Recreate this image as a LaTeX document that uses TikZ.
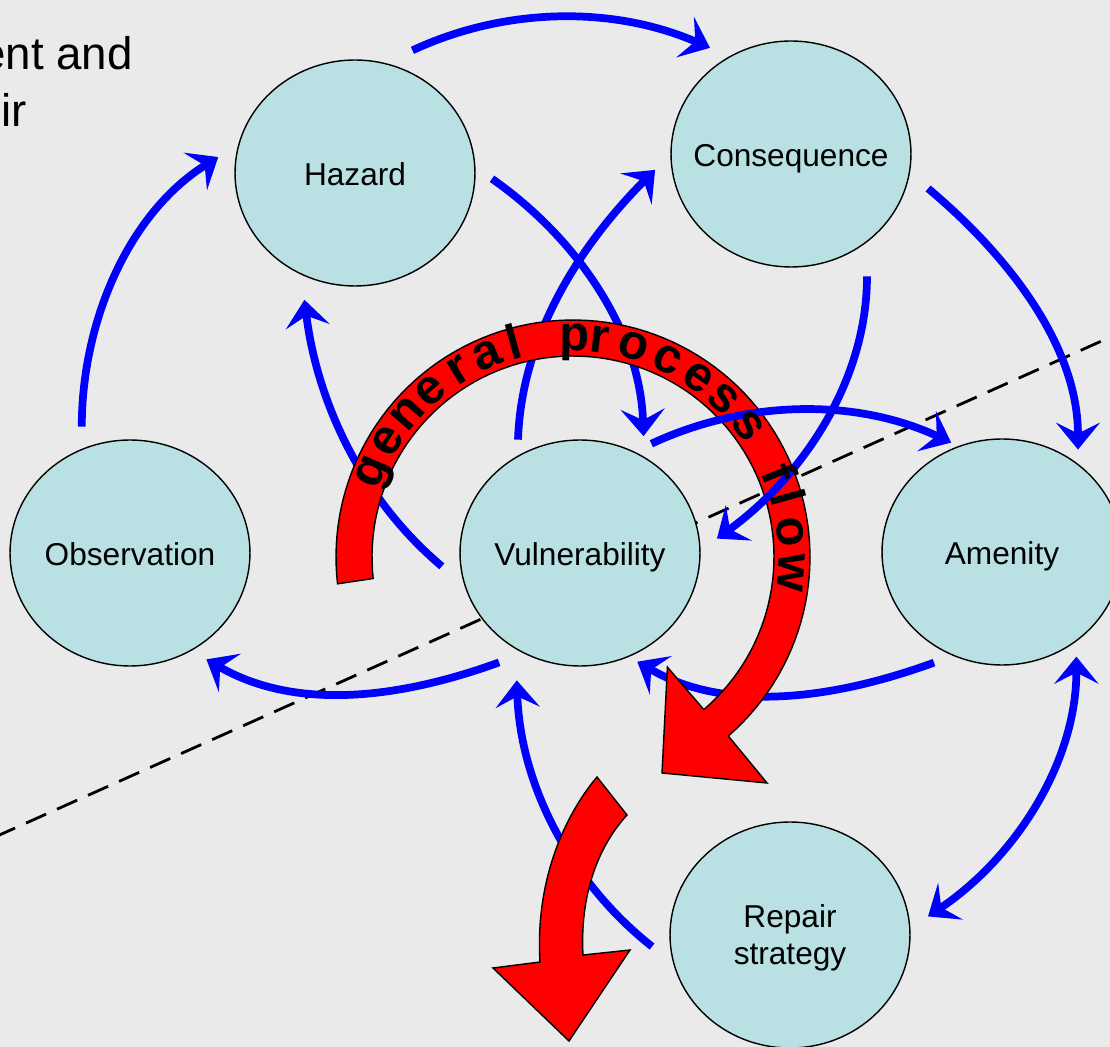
\documentclass[tikz,border=0pt]{standalone}
\usepackage{fontspec}
\setmainfont{Liberation Sans}
\usetikzlibrary{arrows.meta,shapes.geometric}

\definecolor{paper}{RGB}{234,234,234}
\definecolor{bubblefill}{RGB}{185,224,227}
\definecolor{linkblue}{RGB}{0,0,255}
\definecolor{flowred}{RGB}{255,0,0}

\pgfdeclarelayer{backdrop}
\pgfdeclarelayer{links}
\pgfsetlayers{backdrop,links,main}

\tikzset{
  headtip/.tip={Stealth[length=0.54cm,width=0.88cm,inset=0.22cm]},
  bubble/.style={ellipse, draw=black, line width=0.8pt, fill=bubblefill,
    minimum width=4.8cm, minimum height=4.52cm, inner sep=0pt, outer sep=0pt},
  bubbletext/.style={font=\fontsize{18pt}{21pt}\selectfont, inner sep=0pt,
    text height=14.5pt, text depth=0pt},
  pairtext/.style={font=\fontsize{18pt}{21pt}\selectfont, inner sep=0pt, align=center},
  link/.style={draw=linkblue, line width=4.4pt, -headtip},
  twoway/.style={draw=linkblue, line width=4.4pt, headtip-headtip},
  gap/.style 2 args={shorten <=#1cm, shorten >=#2cm},
  cutline/.style={draw=black, line width=1.6pt, dash pattern=on 0.44cm off 0.24cm},
  flowarrow/.style={fill=flowred, draw=black, line width=0.8pt, line join=miter},
  ringletter/.style={font=\fontsize{28pt}{28pt}\selectfont\bfseries, inner sep=0pt, anchor=base},
  slidetext/.style={font=\fontsize{26pt}{31pt}\selectfont, inner sep=0pt, anchor=base east},
}

\begin{document}
\begin{tikzpicture}[x=0.02cm,y=0.02cm]
\useasboundingbox (0,0) rectangle (1110,-1047);

% stages of the cycle
\node[bubble, label={[bubbletext]center:Hazard}]        (haz) at (355,-173) {};
\node[bubble, label={[bubbletext]center:Consequence}]   (con) at (791,-154) {};
\node[bubble, label={[bubbletext]center:Observation}]   (obs) at (130,-553) {};
\node[bubble, label={[bubbletext]center:Vulnerability}] (vul) at (580,-553) {};
\node[bubble, label={[bubbletext]center:Amenity}]       (ame) at (1002,-552) {};
\node[bubble, label={[pairtext, yshift=-0.06cm]center:{Repair\\strategy}}] (rep) at (790,-935) {};

% slide heading running in from the left edge
\node[slidetext] (headA) at (133,-70) {ent and};
\node[slidetext] (headB) at (27,-127) {ir};

\begin{pgfonlayer}{backdrop}
  \fill[paper] (0,0) rectangle (1110,-1047);
\end{pgfonlayer}

\begin{pgfonlayer}{links}
  % dividing line
  \coordinate (cutL) at (-5,-837);
  \coordinate (cutR) at (1115,-335);
  \draw[cutline] (cutL) -- (cutR);

  % outer loop
  \draw[link, gap={0.46}{0.49}] (obs.115.7) .. controls +(90:128) and +(212:130) .. (haz.166.4);
  \draw[link, gap={0.62}{0.44}] (haz.75.3) .. controls +(25:135) and +(156.5:126) .. (con.122.1);
  \draw[link, gap={0.49}{0.30}] (con.-9.7) .. controls +(-40:129) and +(90:119) .. (ame.49.6);
  \draw[twoway, gap={0.32}{0.44}] (ame.-50.3) .. controls +(-90:121.6) and +(34:127.6) .. (rep.3.2);
  \draw[link, gap={0.56}{0.64}] (rep.194.2) .. controls +(141.7:132.3) and +(-88:136.3) .. (vul.236.2);
  \draw[link, gap={0.42}{0.21}] (ame.245.5) .. controls +(200:125.5) and +(-30:115.2) .. (vul.-65.3);
  \draw[link, gap={0.54}{0.36}] (vul.241.6) .. controls +(200:131.5) and +(-30:122.3) .. (obs.-58.7);

  % links around the centre
  \draw[link, gap={0.61}{0.52}] (vul.196.4) .. controls +(140:134) and +(-83:129.4) .. (haz.242.3);
  \draw[link, gap={0.42}{0.43}] (haz.3.4) .. controls +(-35:125.7) and +(92:126.2) .. (vul.56.9);
  \draw[link, gap={0.34}{0.45}] (vul.123.6) .. controls +(88:121.6) and +(225:127.2) .. (con.180);

  % general process flow ring
  \filldraw[flowarrow]
    plot[domain=0:1, samples=100] ({573+237*cos(186.5-235.9*\x)}, {-557+237*sin(186.5-235.9*\x)})
    -- (767,-783) -- (662,-773) -- (667.4,-667.1)
    -- plot[domain=0:1, samples=100] ({573+201*cos(-49.4+235.9*\x)}, {-557+201*sin(-49.4+235.9*\x)})
    -- cycle;

  % exit arrow
  \filldraw[flowarrow] (597,-777) .. controls (565,-815) and (535,-880) .. (540,-962)
    -- (493,-968) -- (569,-1041) -- (630,-950) -- (583,-955)
    .. controls (580,-900) and (595,-850) .. (627,-815) -- cycle;

  \draw[link, gap={0.70}{0.42}] (con.-49.6) .. controls +(-90:140) and +(36:126.3) .. (vul.1.8);
  \draw[link, gap={0.39}{0.18}] (vul.62.8) .. controls +(25:124.5) and +(155:113.9) .. (ame.112.6);

  % lettering along the ring
  \foreach \ang/\ch [count=\k] in {157/g,148/e,139/n,130.5/e,121.5/r,113/a,105.5/l,
      89.5/p,83/r,74/o,64.5/c,55/e,46.5/s,37/s,22/f,15.5/l,6.5/o,-4/w}
    \node[ringletter, rotate=\ang-90] (letter\k) at ({573+206*cos(\ang)},{-557+206*sin(\ang)}) {\ch};
\end{pgfonlayer}
\end{tikzpicture}
\end{document}
